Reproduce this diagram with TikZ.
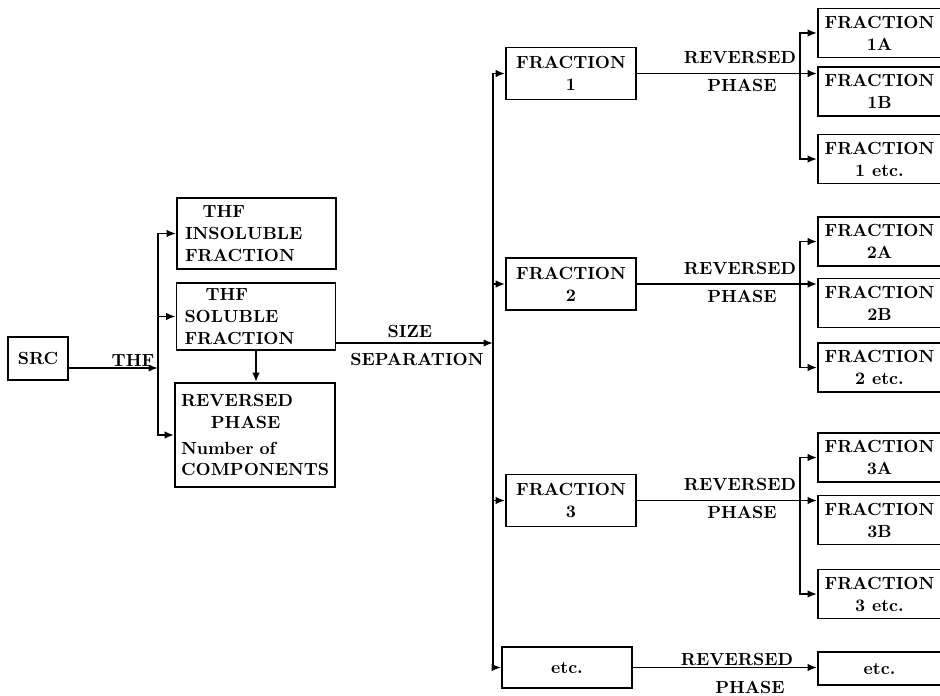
\documentclass[tikz,border=0pt]{standalone}
\usepackage{tikz}
\usetikzlibrary{arrows.meta,positioning,calc}
\tikzset{
  doboz/.style={draw,line width=1pt,inner sep=0pt,align=center,
    font=\fontsize{10}{12.5}\selectfont\bfseries},
  bal/.style={draw,line width=1pt,inner xsep=0.16cm,inner ysep=0pt,align=left,
    font=\fontsize{10}{12.5}\selectfont\bfseries},
  frakc/.style={doboz,minimum width=2.6cm,minimum height=1.04cm},
  kis/.style={doboz,minimum width=2.46cm,minimum height=0.98cm},
  nyil/.style={-{Latex[length=1.9mm,width=1.5mm]},line width=1pt},
  vonal/.style={line width=1pt},
  felirat/.style={anchor=base,inner sep=0pt,font=\fontsize{10}{12.5}\selectfont\bfseries},
}
\begin{document}
\begin{tikzpicture}[x=0.02cm,y=-0.02cm,line cap=rect]
  \useasboundingbox (0,0) rectangle (940,696);
  \coordinate (xb1) at (158,0);
  \coordinate (xb2) at (493,0);
  \coordinate (xb3) at (800,0);
  % kiindulas es THF
  \node[doboz,minimum width=1.2cm,minimum height=0.86cm] (src) at (38,358.5) {SRC};
  \node[bal,text width=2.86cm,minimum height=1.42cm] (ins) at (256.5,233.5)
    {\hspace*{1em}THF\\INSOLUBLE\\FRACTION};
  \node[bal,text width=2.86cm,minimum height=1.34cm] (sol) at (256,316.5)
    {\hspace*{1.2em}THF\\SOLUBLE\\FRACTION};
  \node[bal,inner xsep=0.12cm,text width=2.96cm,minimum height=2.08cm] (rev) at (255,435)
    {REVERSED\\\hspace*{1.7em}PHASE\\[0.08cm]Number of\\COMPONENTS};
  \coordinate (t1) at (158,368);
  \draw[nyil] (src.east |- t1) -- (t1);
  \node[felirat] (thf) at (133,366) {THF};
  \draw[nyil] (rev.west -| xb1) |- (ins.west);
  \draw[nyil] (sol.west -| xb1) -- (sol.west);
  \draw[nyil] (rev.west -| xb1) -- (rev.west);
  \draw[nyil] (sol.south) -- (sol.south |- rev.north);
  % meret szerinti szetvalasztas
  \coordinate (ss) at (493,343);
  \draw[nyil] (sol.east |- ss) -- (ss);
  \node[felirat] (size) at (410,337) {SIZE};
  \node[felirat] (sep) at (417,365) {SEPARATION};
  % frakciok, forditott fazis
  \foreach \n/\ym/\ya/\yb/\yc in {1/73.5/33/91.5/159,2/284/241.5/303/367.5,3/500.5/457.5/520/594}{
    \node[frakc] (f\n) at (571,\ym) {FRACTION\\\n};
    \node[kis] (a\n) at (879.5,\ya) {FRACTION\\\n A};
    \node[kis] (b\n) at (879.5,\yb) {FRACTION\\\n B};
    \node[kis] (c\n) at (879.5,\yc) {FRACTION\\\n{} etc.};
    \coordinate (r\n) at (f\n.east -| xb3);
    \draw[vonal] (f\n.east) -- (r\n);
    \draw[nyil] (c\n.west -| xb3) |- (a\n.west);
    \draw[nyil] (r\n) -- (r\n -| b\n.west);
    \draw[nyil] (c\n.west -| xb3) -- (c\n.west);
    \node[felirat] (rv\n) at (740,\ym-10) {REVERSED};
    \node[felirat] (ph\n) at (742,\ym+18) {PHASE};
  }
  \node[doboz,minimum width=2.6cm,minimum height=0.82cm] (fe) at (567,667.5) {etc.};
  \node[doboz,minimum width=2.46cm,minimum height=0.66cm] (ee) at (879.5,668.5) {etc.};
  \draw[nyil] (fe.east) -- (fe.east -| ee.west);
  \node[felirat] (rve) at (737,665) {REVERSED};
  \node[felirat] (phe) at (750,693) {PHASE};
  \draw[nyil] (fe.west -| xb2) |- (f1.west);
  \draw[nyil] (f2.west -| xb2) -- (f2.west);
  \draw[nyil] (f3.west -| xb2) -- (f3.west);
  \draw[nyil] (fe.west -| xb2) -- (fe.west);
\end{tikzpicture}
\end{document}
